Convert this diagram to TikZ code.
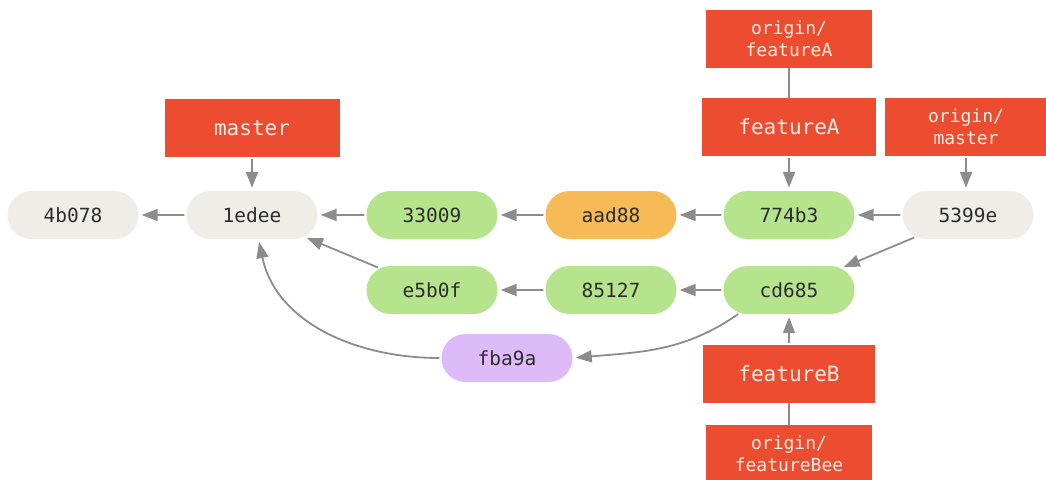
\documentclass[tikz,border=0pt]{standalone}
\usepackage{fontspec}
\setmonofont{DejaVu Sans Mono}
\usepackage{xcolor}
\usepackage{tikz}
\usetikzlibrary{shapes.misc, arrows.meta, positioning}
\definecolor{RefRed}{RGB}{236, 76, 48}
\definecolor{RefLabel}{RGB}{250, 236, 226}
\definecolor{CommitGray}{RGB}{238, 237, 232}
\definecolor{CommitGreen}{RGB}{181, 228, 140}
\definecolor{CommitOrange}{RGB}{246, 186, 86}
\definecolor{CommitPurple}{RGB}{222, 186, 248}
\definecolor{CommitText}{RGB}{45, 45, 45}
\definecolor{LinkGray}{RGB}{140, 140, 140}

\begin{document}
\begin{tikzpicture}[x=1pt, y=-1pt,
  commit/.style={rounded rectangle, fill=CommitGray, minimum width=131pt, minimum height=48pt,
    inner sep=0pt, font=\ttfamily\fontsize{19.5}{22}\selectfont\color{CommitText}},
  ref/.style={rectangle, fill=RefRed, minimum width=172pt, minimum height=58pt,
    inner sep=0pt, align=center, font=\ttfamily\fontsize{21}{24}\selectfont\color{RefLabel}},
  remote/.style={ref, font=\ttfamily\fontsize{18}{22}\selectfont\color{RefLabel}},
  arr/.style={-{Triangle[length=16pt, width=12pt]}, LinkGray, line width=1.8pt,
    shorten >=3pt, shorten <=2pt},
  link/.style={LinkGray, line width=1.8pt}
]
\clip (0,0) rectangle (1046,479);
\fill[white] (0,0) rectangle (1046,479);

\node[commit] (c4b078) at (73,215)  {4b078};
\node[commit] (c1edee) at (252,215) {1edee};
\node[commit, fill=CommitGreen]  (c33009) at (432,215) {33009};
\node[commit, fill=CommitOrange] (caad88) at (611,215) {aad88};
\node[commit, fill=CommitGreen]  (c774b3) at (789,215) {774b3};
\node[commit] (c5399e) at (968,215) {5399e};
\node[commit, fill=CommitGreen]  (ce5b0f) at (432,290) {e5b0f};
\node[commit, fill=CommitGreen]  (c85127) at (611,290) {85127};
\node[commit, fill=CommitGreen]  (ccd685) at (789,290) {cd685};
\node[commit, fill=CommitPurple] (cfba9a) at (507,358) {fba9a};

\node[ref, minimum width=175pt] (master) at (252,128) {master};
\node[remote, minimum width=166pt] (oFeatA) at (789,39) {origin/\\featureA};
\node[ref, minimum width=174pt] (featA) at (789,127) {featureA};
\node[remote, minimum width=162pt] (oMaster) at (966,127) {origin/\\master};
\node[ref] (featB) at (789,374) {featureB};
\node[remote, minimum width=166pt] (oFeatB) at (789,454) {origin/\\featureBee};

\draw[arr] (master) -- (c1edee);
\draw[link] (oFeatA) -- (featA);
\draw[arr] (featA) -- (c774b3);
\draw[arr] (oMaster) -- (oMaster |- c5399e.north);
\draw[arr] (featB) -- (ccd685);
\draw[link] (oFeatB) -- (featB);

\draw[arr] (c1edee) -- (c4b078);
\draw[arr] (c33009) -- (c1edee);
\draw[arr] (caad88) -- (c33009);
\draw[arr] (c774b3) -- (caad88);
\draw[arr] (c5399e) -- (c774b3);
\draw[arr] (c5399e) -- (ccd685);
\draw[arr] (ccd685) -- (c85127);
\draw[arr] (c85127) -- (ce5b0f);
\draw[arr] (ce5b0f) -- (c1edee);
\draw[arr] (ccd685.205) to[out=215, in=5] (cfba9a.east);
\draw[arr] (cfba9a.west) to[out=180, in=-78] (c1edee.-75);
\end{tikzpicture}
\end{document}
